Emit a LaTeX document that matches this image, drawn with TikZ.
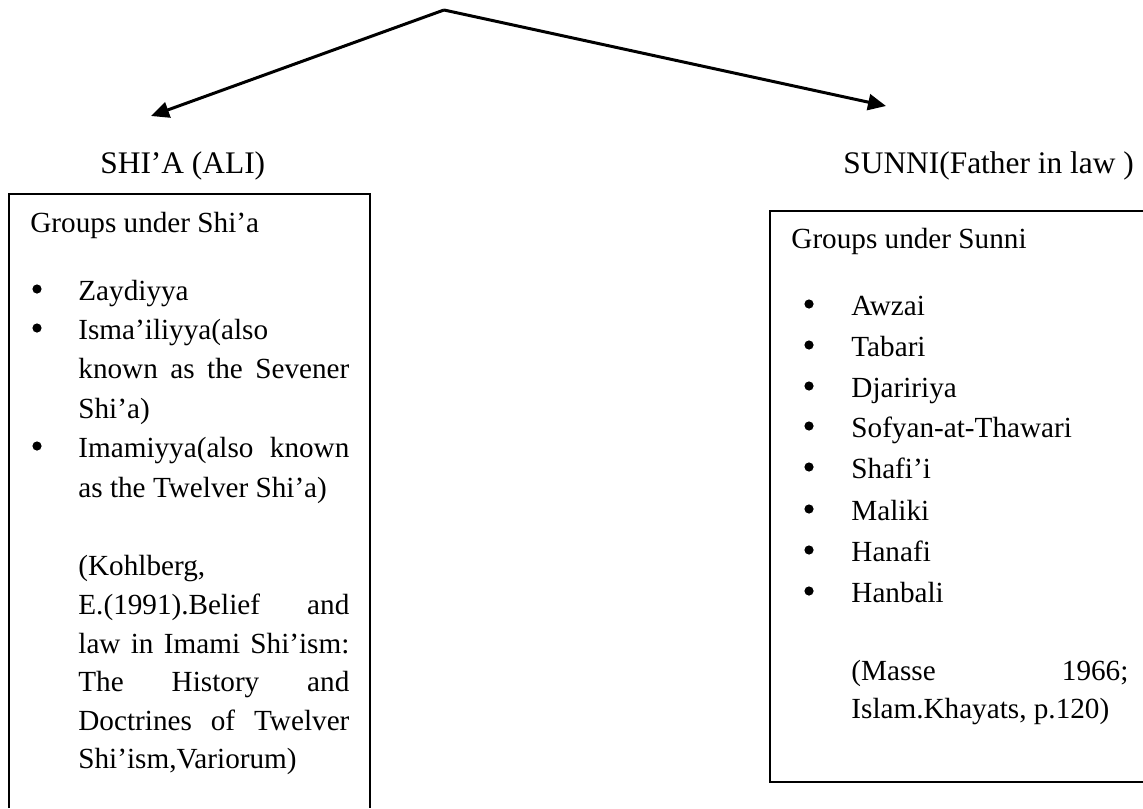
\documentclass[tikz,border=0pt]{standalone}
\usepackage{fontspec}
\setmainfont{Liberation Serif}
\usepackage{tikz}
\usetikzlibrary{arrows.meta,positioning}

\begin{document}
\begin{tikzpicture}[x=0.5pt,y=-0.5pt,
    head/.style={anchor=base west,inner sep=0pt,font=\fontsize{15.7}{19}\selectfont},
    line/.style={anchor=base west,inner sep=0pt,font=\fontsize{14.6}{18}\selectfont},
    dot/.style={circle,fill,inner sep=0pt,minimum size=4.6pt,yshift=5.5pt},
    frame/.style={line width=1pt},
    branch/.style={line width=1.5pt,-{Triangle[length=9pt,width=8pt]}}]
				\useasboundingbox (0,0) rectangle (1143,808);

				% the two branches
				\coordinate (top) at (444,10);
				\coordinate (shiatip) at (151,116);
				\coordinate (sunnitip) at (886,106);
				\draw[branch] (top) -- (shiatip);
				\draw[branch] (top) -- (sunnitip);

				\node[head] (shia) at (100,173) {SHI’A (ALI)};
				\node[head] (sunni) at (843,173) {SUNNI(Father in law )};

				% boxes
				\draw[frame] (9,808) -- (9,194) -- (370,194) -- (370,808);
				\draw[frame] (1143,211) -- (770,211) -- (770,782) -- (1143,782);

				% Shi'a box
				\node[line] (s0) at (30,232) {Groups under Shi’a};
				\node[dot] (b1) at (37,300) {};
				\node[dot] (b2) at (37,339) {};
				\node[dot] (b3) at (37,457) {};
				\node[line] (s1) at (78,300) {Zaydiyya};
				\node[line] (s2) at (78,339) {Isma’iliyya(also};
				\node[line] (s3) at (78,378) {\makebox[135.5pt][s]{known as the Sevener}};
				\node[line] (s4) at (78,418) {Shi’a)};
				\node[line] (s5) at (78,457) {\makebox[135.5pt][s]{Imamiyya(also known}};
				\node[line] (s6) at (78,497) {as the Twelver Shi’a)};
				\node[line] (s7) at (78,575) {(Kohlberg,};
				\node[line] (s8) at (78,614) {\makebox[135.5pt][s]{E.(1991).Belief and}};
				\node[line] (s9) at (78,653) {\makebox[135.5pt][s]{law in Imami Shi’ism:}};
				\node[line] (s10) at (78,691) {\makebox[135.5pt][s]{The History and}};
				\node[line] (s11) at (78,730) {\makebox[135.5pt][s]{Doctrines of Twelver}};
				\node[line] (s12) at (78,768) {Shi’ism,Variorum)};

				% Sunni box
				\node[line] (n0) at (791,248) {Groups under Sunni};
				\node[dot] (c1) at (809,315) {};
				\node[dot] (c2) at (809,356) {};
				\node[dot] (c3) at (809,397) {};
				\node[dot] (c4) at (809,437) {};
				\node[dot] (c5) at (809,478) {};
				\node[dot] (c6) at (809,520) {};
				\node[dot] (c7) at (809,561) {};
				\node[dot] (c8) at (809,602) {};
				\node[line] (n1) at (851,315) {Awzai};
				\node[line] (n2) at (851,356) {Tabari};
				\node[line] (n3) at (851,397) {Djaririya};
				\node[line] (n4) at (851,437) {Sofyan-at-Thawari};
				\node[line] (n5) at (851,478) {Shafi’i};
				\node[line] (n6) at (851,520) {Maliki};
				\node[line] (n7) at (851,561) {Hanafi};
				\node[line] (n8) at (851,602) {Hanbali};
				\node[line] (n9) at (851,680) {\makebox[138.5pt][s]{(Masse 1966;}};
				\node[line] (n10) at (851,718) {Islam.Khayats, p.120)};

			\end{tikzpicture}
\end{document}
